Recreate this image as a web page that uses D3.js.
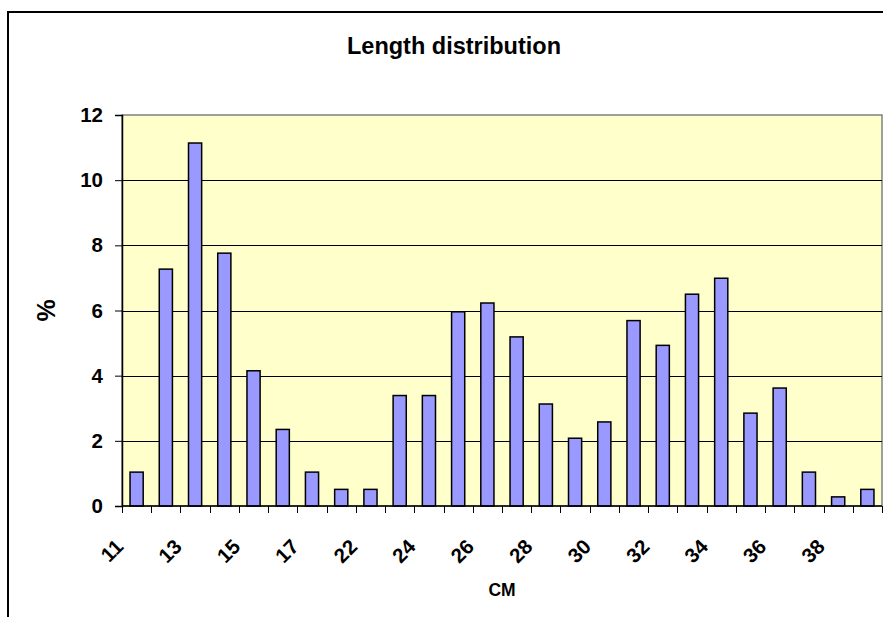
<!DOCTYPE html>
<html>
<head>
<meta charset="utf-8">
<script src="https://cdn.jsdelivr.net/npm/d3@7"></script>
<style>
  html, body { margin: 0; padding: 0; background: #ffffff; }
  svg { display: block; }
  text { font-family: "Liberation Sans", Arial, sans-serif; font-weight: bold; fill: #000; }
</style>
</head>
<body>
<svg id="chart" width="883" height="617"></svg>
<script>
// Length classes (cm) and share of fish in each class (%)
const lengths = ["11","12","13","14","15","16","17","20","22","23","24","25","26","27","28","29","30","31","32","33","34","35","36","37","38","39"];
const percents = [1.04, 7.27, 11.14, 7.76, 4.15, 2.35, 1.04, 0.51, 0.51, 3.39, 3.39, 5.96, 6.23, 5.19, 3.13, 2.08, 2.58, 5.69, 4.93, 6.50, 6.99, 2.85, 3.62, 1.04, 0.28, 0.51];
const yTicks = [0, 2, 4, 6, 8, 10, 12];
const shownLabels = ["11","13","15","17","22","24","26","28","30","32","34","36","38"];

const chartTitle = "Length distribution";
const xTitle = "CM";
const yTitle = "%";

const svg = d3.select("#chart");
const plot = { left: 122, right: 882, top: 115, bottom: 506 };

// outer chart frame
svg.append("rect")
  .attr("x", 8).attr("y", 12)
  .attr("width", 1000).attr("height", 1000)
  .attr("fill", "#ffffff")
  .attr("stroke", "#000").attr("stroke-width", 2);

const pad = 0.55;
const x = d3.scaleBand()
  .domain(lengths)
  .range([plot.left, plot.right])
  .paddingInner(pad)
  .paddingOuter(pad / 2);

const y = d3.scaleLinear()
  .domain([0, 12])
  .range([plot.bottom, plot.top]);

// plot area background
svg.append("rect")
  .attr("x", plot.left).attr("y", plot.top)
  .attr("width", plot.right - plot.left)
  .attr("height", plot.bottom - plot.top)
  .attr("fill", "#FFFFCC")
  .attr("stroke", "#808080").attr("stroke-width", 1.5);

// horizontal gridlines
svg.append("g")
  .selectAll("line")
  .data(yTicks.filter(t => t > 0 && t < 12))
  .join("line")
  .attr("x1", plot.left).attr("x2", plot.right)
  .attr("y1", d => Math.round(y(d)) + 0.5)
  .attr("y2", d => Math.round(y(d)) + 0.5)
  .attr("stroke", "#000").attr("stroke-width", 1);

// bars
svg.append("g")
  .selectAll("rect")
  .data(lengths.map((l, i) => ({ l, v: percents[i] })))
  .join("rect")
  .attr("x", d => x(d.l))
  .attr("y", d => y(d.v))
  .attr("width", x.bandwidth())
  .attr("height", d => y(0) - y(d.v))
  .attr("fill", "#9999FF")
  .attr("stroke", "#000").attr("stroke-width", 1.5);

// y axis
const yAxis = svg.append("g")
  .attr("transform", `translate(${plot.left},0)`)
  .call(d3.axisLeft(y).tickValues(yTicks).tickSize(7).tickPadding(12).tickFormat(d3.format("d")));
yAxis.select(".domain").attr("stroke", "#000").attr("stroke-width", 1.5);
yAxis.selectAll(".tick line").attr("stroke", "#000");
yAxis.selectAll(".tick text")
  .attr("font-size", 20.5)
  .attr("font-family", "Liberation Sans, Arial, sans-serif")
  .attr("font-weight", "bold");

// x axis: ticks at category boundaries
const step = x.step();
const boundaries = lengths.map(l => x(l) - step * pad / 2).concat([plot.right]);
const xAxisG = svg.append("g");
xAxisG.append("line")
  .attr("x1", plot.left).attr("x2", plot.right)
  .attr("y1", plot.bottom).attr("y2", plot.bottom)
  .attr("stroke", "#000").attr("stroke-width", 1.5);
xAxisG.selectAll("line.tk")
  .data(boundaries)
  .join("line")
  .attr("class", "tk")
  .attr("x1", d => Math.round(d) + 0.5).attr("x2", d => Math.round(d) + 0.5)
  .attr("y1", plot.bottom).attr("y2", plot.bottom + 7)
  .attr("stroke", "#000");

// rotated category labels
xAxisG.selectAll("text")
  .data(shownLabels)
  .join("text")
  .attr("transform", d => `translate(${x(d) + x.bandwidth() / 2 - 12},${plot.bottom + 42}) rotate(-45)`)
  .attr("text-anchor", "end")
  .attr("font-size", 20.5)
  .text(d => d);

// titles
svg.append("text")
  .attr("x", 454).attr("y", 54)
  .attr("text-anchor", "middle")
  .attr("font-size", 23.5)
  .text(chartTitle);

svg.append("text")
  .attr("x", (plot.left + plot.right) / 2).attr("y", 596)
  .attr("text-anchor", "middle")
  .attr("font-size", 17.5)
  .text(xTitle);

svg.append("text")
  .attr("transform", `translate(55,${(plot.top + plot.bottom) / 2}) rotate(-90)`)
  .attr("text-anchor", "middle")
  .attr("font-size", 25)
  .text(yTitle);
</script>
</body>
</html>
